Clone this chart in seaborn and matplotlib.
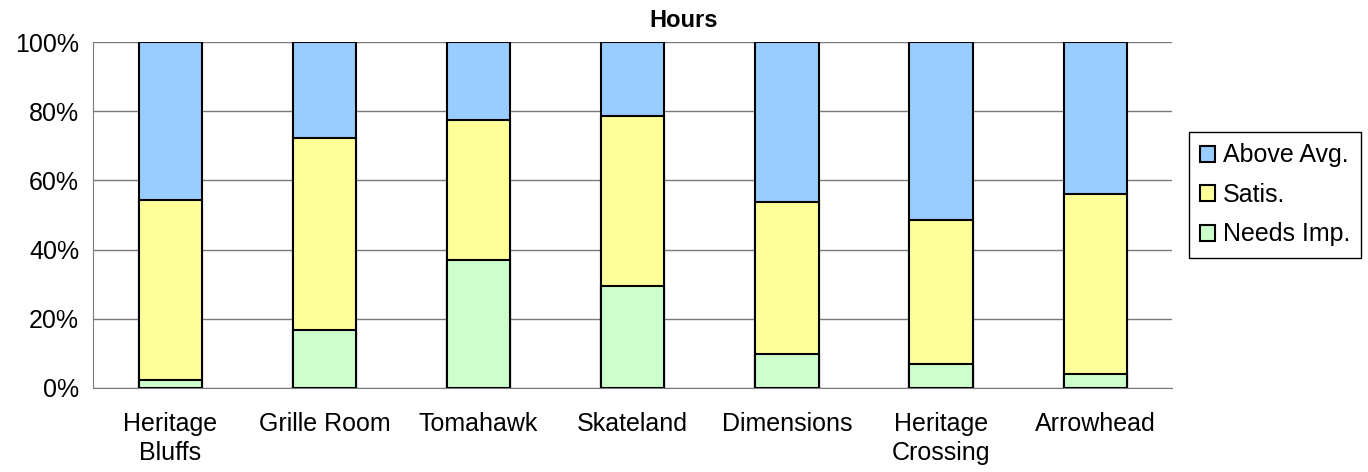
import numpy as np
import pandas as pd
import matplotlib
matplotlib.use("Agg")
import matplotlib.pyplot as plt
from matplotlib.patches import Patch
import seaborn as sns

lugares = ["Heritage\nBluffs", "Grille Room", "Tomahawk", "Skateland",
           "Dimensions", "Heritage\nCrossing", "Arrowhead"]
needs_imp = [2.3, 16.8, 37.0, 29.5, 9.7, 6.9, 4.0]
satis = [52.0, 55.5, 40.5, 49.1, 44.1, 41.7, 52.1]
above_avg = [45.7, 27.7, 22.5, 21.4, 46.2, 51.4, 43.9]

series = ["Above Avg.", "Satis.", "Needs Imp."]
colores = {"Above Avg.": "#99CCFF", "Satis.": "#FFFF99", "Needs Imp.": "#CCFFCC"}

df = pd.DataFrame({"lugar": lugares, "Needs Imp.": needs_imp,
                   "Satis.": satis, "Above Avg.": above_avg})
# alturas acumuladas para apilar (se dibuja de arriba hacia abajo)
df["tope_needs"] = df["Needs Imp."]
df["tope_satis"] = df["tope_needs"] + df["Satis."]
df["tope_above"] = df["tope_satis"] + df["Above Avg."]

sns.set_style("white")
plt.rcParams["font.family"] = ["Liberation Sans", "DejaVu Sans"]
plt.rcParams["text.color"] = "black"
plt.rcParams["xtick.color"] = "black"
plt.rcParams["ytick.color"] = "black"

fig, ax = plt.subplots(figsize=(13.68, 4.72), dpi=100)
fig.subplots_adjust(left=0.068, right=0.857, top=0.911, bottom=0.178)

for col, serie in [("tope_above", "Above Avg."), ("tope_satis", "Satis."),
                   ("tope_needs", "Needs Imp.")]:
    sns.barplot(data=df, x="lugar", y=col, color=colores[serie], width=0.41,
                edgecolor="black", linewidth=1.5, saturation=1, ax=ax, zorder=3)

ax.set_ylim(0, 100)
ax.set_xlim(-0.5, len(lugares) - 0.5)
ax.set_yticks(np.arange(0, 101, 20))
ax.set_yticklabels([f"{v}%" for v in range(0, 101, 20)], fontsize=18)
ax.set_xticklabels(lugares, fontsize=18, linespacing=1.3)
ax.set_xlabel("")
ax.set_ylabel("")

ax.grid(axis="y", color="#7a7a7a", linewidth=1, zorder=0)
ax.set_axisbelow(True)
for s in ["top", "right"]:
    ax.spines[s].set_visible(False)
ax.spines["left"].set_color("#7a7a7a")
ax.spines["bottom"].set_color("#7a7a7a")

# marcas del eje x entre categorías
ax.set_xticks(np.arange(-0.5, len(lugares), 1), minor=True)
ax.tick_params(axis="x", which="major", length=0, pad=17)
ax.tick_params(axis="x", which="minor", length=8, color="#7a7a7a", direction="out")
ax.tick_params(axis="y", length=6, color="#7a7a7a", direction="out", pad=4)

fig.text(0.5, 0.957, "Hours", ha="center", va="center", fontsize=17, fontweight="bold")

handles = [Patch(facecolor=colores[s], edgecolor="black", linewidth=1.5, label=s)
           for s in series]
leg = fig.legend(handles=handles, loc="upper left", bbox_to_anchor=(0.869, 0.72),
                 fontsize=18, frameon=True, fancybox=False, framealpha=1,
                 edgecolor="black", handlelength=0.6, handleheight=0.6,
                 handletextpad=0.3, labelspacing=0.62, borderpad=0.45, borderaxespad=0)
leg.get_frame().set_linewidth(1)

plt.savefig("out.png", dpi=100)
